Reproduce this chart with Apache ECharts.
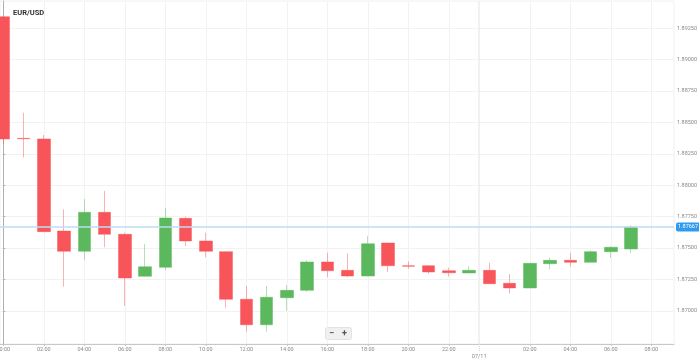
<!DOCTYPE html>
<html>
<head>
<meta charset="utf-8">
<script src="https://cdn.jsdelivr.net/npm/echarts@6/dist/echarts.min.js"></script>
<style>
html,body{margin:0;padding:0;background:#fff;}
#c{width:699px;height:362px;}
</style>
</head>
<body>
<div id="c"></div>
<script>
// hours since 00:00 on day 1 (07/10), hourly candles
const hours = [0,1,2,3,4,5,6,7,8,9,10,11,12,13,14,15,16,17,18,19,20,21,22,23,24,25,26,27,28,29,30,31];
const openV  = [1.89341,1.88373,1.88368,1.87635,1.87474,1.87784,1.87609,1.87275,1.87346,1.87736,1.87556,1.87471,1.87092,1.86889,1.87104,1.87163,1.87389,1.87322,1.87277,1.87540,1.87359,1.87359,1.87319,1.87301,1.87322,1.87219,1.87182,1.87375,1.87402,1.87386,1.87471,1.87492];
const closeV = [1.88368,1.88370,1.87630,1.87474,1.87784,1.87609,1.87261,1.87351,1.87739,1.87556,1.87474,1.87092,1.86889,1.87108,1.87163,1.87389,1.87319,1.87277,1.87534,1.87359,1.87355,1.87309,1.87303,1.87322,1.87216,1.87182,1.87378,1.87402,1.87386,1.87471,1.87506,1.87667];
const lowV   = [1.88325,1.88222,1.87625,1.87192,1.87404,1.87506,1.87038,1.87272,1.87325,1.87516,1.87426,1.87025,1.86834,1.86834,1.86999,1.87150,1.87267,1.87267,1.87275,1.87309,1.87335,1.87295,1.87272,1.87300,1.87214,1.87139,1.87180,1.87330,1.87351,1.87385,1.87420,1.87463];
const highV  = [1.89350,1.88577,1.88399,1.87808,1.87890,1.87954,1.87622,1.87532,1.87821,1.87749,1.87622,1.87476,1.87198,1.87198,1.87205,1.87404,1.87463,1.87458,1.87596,1.87542,1.87394,1.87365,1.87343,1.87354,1.87383,1.87293,1.87380,1.87423,1.87463,1.87482,1.87514,1.87681];

const xTickHours = [0,2,4,6,8,10,12,14,16,18,20,22,26,28,30,32];
const dayBreakHour = [23.5];
const dayBreakLabel = '07/11';
const yTicks = [1.87000,1.87250,1.87500,1.87750,1.88000,1.88250,1.88500,1.88750,1.89000,1.89250];
const currentPrice = 1.87667;
const title = 'EUR/USD';

const xMin = -0.163, xMax = 33.12;
const yMin = 1.86736, yMax = 1.89466;

const data = hours.map((h, i) => [h, openV[i], closeV[i], lowV[i], highV[i]]);

const chart = echarts.init(document.getElementById('c'), null, {renderer: 'canvas'});
const lab = {fontFamily: 'Roboto, sans-serif', fontSize: 5.5, color: '#8a8a8a'};

chart.setOption({
  animation: false,
  backgroundColor: '#fff',
  title: {
    text: title, left: 8, top: 4,
    textStyle: {fontFamily: 'Roboto, sans-serif', fontSize: 7.5, fontWeight: 'bold', color: '#333'}
  },
  grid: {left: 0, right: 25, top: 1, bottom: 18, outerBoundsMode: 'none', containLabel: false,
    show: true, borderColor: '#f0f0f0', borderWidth: 1, backgroundColor: 'transparent'},
  xAxis: [{
    type: 'value', min: xMin, max: xMax,
    axisLine: {show: true, onZero: false, lineStyle: {color: '#c8c8c8', width: 1}},
    axisTick: {show: true, length: 2, customValues: xTickHours, lineStyle: {color: '#c8c8c8'}},
    axisLabel: Object.assign({customValues: xTickHours, margin: 3,
      formatter: v => String(((v % 24) + 24) % 24).padStart(2, '0') + ':00'}, lab),
    splitLine: {show: true, lineStyle: {color: '#f2f2f2', width: 1}}
  }, {
    type: 'value', min: xMin, max: xMax, position: 'bottom',
    axisLine: {show: false},
    axisTick: {show: true, length: 7, customValues: dayBreakHour, lineStyle: {color: '#d6d6d6', type: 'dotted'}},
    axisLabel: Object.assign({customValues: dayBreakHour, margin: 10, formatter: () => dayBreakLabel}, lab),
    splitLine: {show: true, lineStyle: {color: '#ececec', width: 1.5}}
  }],
  yAxis: {
    type: 'value', position: 'right', min: yMin, max: yMax, scale: true,
    axisLine: {show: true, lineStyle: {color: '#b0b0b0', width: 1}},
    axisTick: {show: true, length: 2, customValues: yTicks, lineStyle: {color: '#b0b0b0'}},
    axisLabel: Object.assign({customValues: yTicks, margin: 3, formatter: v => v.toFixed(5)}, lab),
    splitLine: {show: true, lineStyle: {color: '#f2f2f2', width: 1}}
  },
  series: [{
    type: 'candlestick',
    xAxisIndex: 0,
    data: data,
    encode: {x: 0, y: [1, 2, 3, 4]},
    barWidth: 13,
    itemStyle: {
      color: '#5cb85c', color0: '#f7555a',
      borderColor: 'rgba(92,184,92,0.45)', borderColor0: 'rgba(247,85,90,0.45)',
      borderWidth: 1
    },
    markLine: {
      symbol: ['none', 'none'],
      silent: true,
      precision: 5,
      data: [{yAxis: currentPrice}],
      lineStyle: {color: '#bcdcf3', type: 'solid', width: 1.5},
      label: {
        show: true, position: 'end', distance: 2,
        formatter: () => currentPrice.toFixed(5),
        backgroundColor: '#2d9bf0', color: '#fff', borderRadius: 2,
        padding: [2, 2, 1, 2], fontFamily: 'Roboto, sans-serif', fontSize: 5.5
      }
    }
  }],
  graphic: [{
    type: 'group', left: 325, top: 327,
    children: [
      {type: 'rect', shape: {x: 0, y: 0, width: 26, height: 12, r: 2}, style: {fill: '#f0f0f0', stroke: '#e2e2e2'}},
      {type: 'text', x: 6, y: 6, style: {text: '−', fill: '#555', font: 'bold 9px Roboto', textAlign: 'center', textVerticalAlign: 'middle'}},
      {type: 'text', x: 19, y: 6, style: {text: '+', fill: '#555', font: 'bold 9px Roboto', textAlign: 'center', textVerticalAlign: 'middle'}}
    ]
  }]
});
</script>
</body>
</html>
